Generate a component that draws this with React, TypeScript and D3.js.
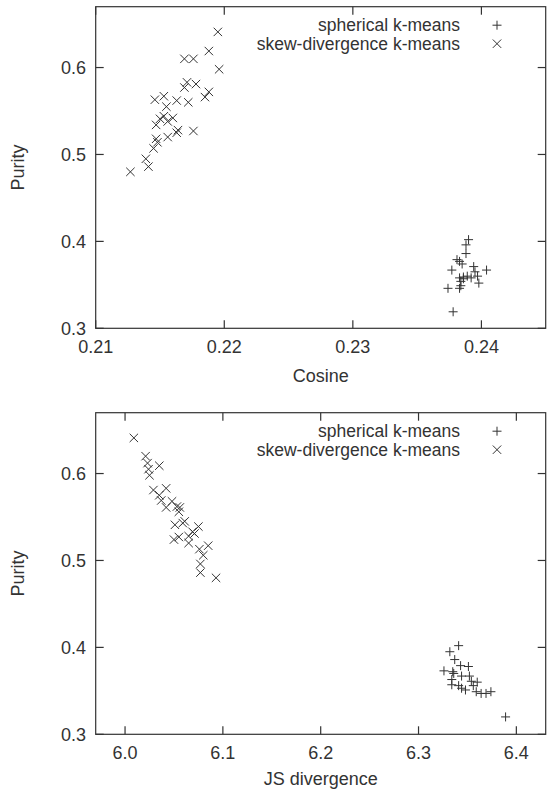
import React from 'react';
import * as d3 from 'd3';

const WIDTH = 549;
const HEIGHT = 790;
const FONT = '"Liberation Sans", Arial, Helvetica, sans-serif';
const INK = '#333';

// [x, purity] pairs
const cosineSpherical = [
  [0.2390, 0.402], [0.2388, 0.396], [0.2388, 0.386], [0.2381, 0.379], [0.2383, 0.377],
  [0.2385, 0.374], [0.2377, 0.367], [0.2394, 0.371], [0.2395, 0.365], [0.2404, 0.367],
  [0.2386, 0.359], [0.2389, 0.360], [0.2392, 0.358], [0.2397, 0.360], [0.2384, 0.354],
  [0.2384, 0.349], [0.2383, 0.346], [0.2398, 0.352], [0.2374, 0.346], [0.2378, 0.319],
  [0.2386, 0.357], [0.2383, 0.358],
];

const cosineSkew = [
  [0.2195, 0.641], [0.2188, 0.619], [0.2196, 0.598], [0.2169, 0.610], [0.2176, 0.610],
  [0.2171, 0.583], [0.2169, 0.577], [0.2178, 0.581], [0.2188, 0.572], [0.2185, 0.566],
  [0.2146, 0.563], [0.2153, 0.567], [0.2163, 0.562], [0.2172, 0.560], [0.2155, 0.555],
  [0.2153, 0.544], [0.2160, 0.542], [0.2150, 0.541], [0.2156, 0.538], [0.2147, 0.534],
  [0.2164, 0.528], [0.2163, 0.525], [0.2176, 0.527], [0.2156, 0.520], [0.2147, 0.518],
  [0.2148, 0.514], [0.2145, 0.507], [0.2139, 0.495], [0.2141, 0.486], [0.2127, 0.480],
];

const jsSpherical = [
  [6.341, 0.402], [6.332, 0.395], [6.337, 0.386], [6.326, 0.373], [6.335, 0.372],
  [6.336, 0.370], [6.343, 0.379], [6.351, 0.378], [6.334, 0.363], [6.344, 0.367],
  [6.352, 0.367], [6.334, 0.357], [6.341, 0.356], [6.344, 0.353], [6.348, 0.351],
  [6.354, 0.361], [6.360, 0.360], [6.356, 0.356], [6.359, 0.349], [6.364, 0.347],
  [6.369, 0.347], [6.374, 0.349], [6.389, 0.320],
];

const jsSkew = [
  [6.009, 0.641], [6.021, 0.620], [6.023, 0.612], [6.035, 0.609], [6.024, 0.605],
  [6.025, 0.598], [6.029, 0.581], [6.042, 0.583], [6.035, 0.575], [6.037, 0.569],
  [6.042, 0.561], [6.048, 0.568], [6.053, 0.562], [6.056, 0.561], [6.055, 0.556],
  [6.061, 0.545], [6.051, 0.541], [6.059, 0.543], [6.075, 0.539], [6.069, 0.533],
  [6.071, 0.531], [6.065, 0.528], [6.055, 0.527], [6.050, 0.524], [6.065, 0.520],
  [6.076, 0.513], [6.085, 0.517], [6.080, 0.506], [6.077, 0.496], [6.077, 0.486],
  [6.093, 0.480],
];

const purityTicks = [0.3, 0.4, 0.5, 0.6];
const cosineTicks = [0.21, 0.22, 0.23, 0.24];
const jsTicks = [6.0, 6.1, 6.2, 6.3, 6.4];
const legendLabels = ['spherical k-means', 'skew-divergence k-means'];

const PLUS = 'M-4.5,0H4.5M0,-4.5V4.5';
const CROSS = 'M-4.2,-4.2L4.2,4.2M-4.2,4.2L4.2,-4.2';

function Panel({ top, xDomain, xTicks, xFormat, xLabel, labelGap, spherical, skew }) {
  const left = 95.7;
  const right = 545.7;
  const bottom = top + 321.6;
  const x = d3.scaleLinear().domain(xDomain).range([left, right]);
  const y = d3.scaleLinear().domain([0.3, 0.67]).range([bottom, top]);
  const tk = 8;

  return (
    <g fontFamily={FONT} fontSize={18} fill={INK}>
      <rect x={left} y={top} width={right - left} height={bottom - top} fill="none" stroke={INK} strokeWidth={1.2} />

      {xTicks.map((t) => (
        <g key={'x' + t}>
          <line x1={x(t)} x2={x(t)} y1={bottom} y2={bottom - tk} stroke={INK} strokeWidth={1.2} />
          <line x1={x(t)} x2={x(t)} y1={top} y2={top + tk} stroke={INK} strokeWidth={1.2} />
          <text x={x(t)} y={bottom + 25} textAnchor="middle">{xFormat(t)}</text>
        </g>
      ))}

      {purityTicks.map((t) => (
        <g key={'y' + t}>
          <line x1={left} x2={left + tk} y1={y(t)} y2={y(t)} stroke={INK} strokeWidth={1.2} />
          <line x1={right} x2={right - tk} y1={y(t)} y2={y(t)} stroke={INK} strokeWidth={1.2} />
          <text x={86} y={y(t) + 6.5} textAnchor="end">{d3.format('.1f')(t)}</text>
        </g>
      ))}

      <text x={(left + right) / 2} y={bottom + labelGap} textAnchor="middle">{xLabel}</text>
      <text
        transform={`translate(24,${(top + bottom) / 2}) rotate(-90)`}
        textAnchor="middle"
      >
        Purity
      </text>

      {/* legend */}
      {legendLabels.map((lab, i) => (
        <g key={lab}>
          <text x={460} y={top + 24.5 + i * 18.5} textAnchor="end" fontSize={17.5}>{lab}</text>
          <path
            d={i === 0 ? PLUS : CROSS}
            transform={`translate(497,${top + 18.5 + i * 18.5})`}
            stroke={INK}
            strokeWidth={1}
            fill="none"
          />
        </g>
      ))}

      {spherical.map((d, i) => (
        <path key={'s' + i} d={PLUS} transform={`translate(${x(d[0])},${y(d[1])})`} stroke={INK} strokeWidth={1} fill="none" />
      ))}
      {skew.map((d, i) => (
        <path key={'k' + i} d={CROSS} transform={`translate(${x(d[0])},${y(d[1])})`} stroke={INK} strokeWidth={1} fill="none" />
      ))}
    </g>
  );
}

export default function App() {
  return (
    <svg
      width={WIDTH}
      height={HEIGHT}
      viewBox={`0 0 ${WIDTH} ${HEIGHT}`}
      style={{ position: 'absolute', left: 0, top: 0, background: '#fff' }}
    >
      <rect width={WIDTH} height={HEIGHT} fill="#fff" />
      <Panel
        top={6.7}
        xDomain={[0.21, 0.245]}
        xTicks={cosineTicks}
        xFormat={d3.format('.2f')}
        xLabel="Cosine"
        labelGap={54}
        spherical={cosineSpherical}
        skew={cosineSkew}
      />
      <Panel
        top={412.7}
        xDomain={[5.97, 6.43]}
        xTicks={jsTicks}
        xFormat={d3.format('.1f')}
        xLabel="JS divergence"
        labelGap={51}
        spherical={jsSpherical}
        skew={jsSkew}
      />
    </svg>
  );
}
